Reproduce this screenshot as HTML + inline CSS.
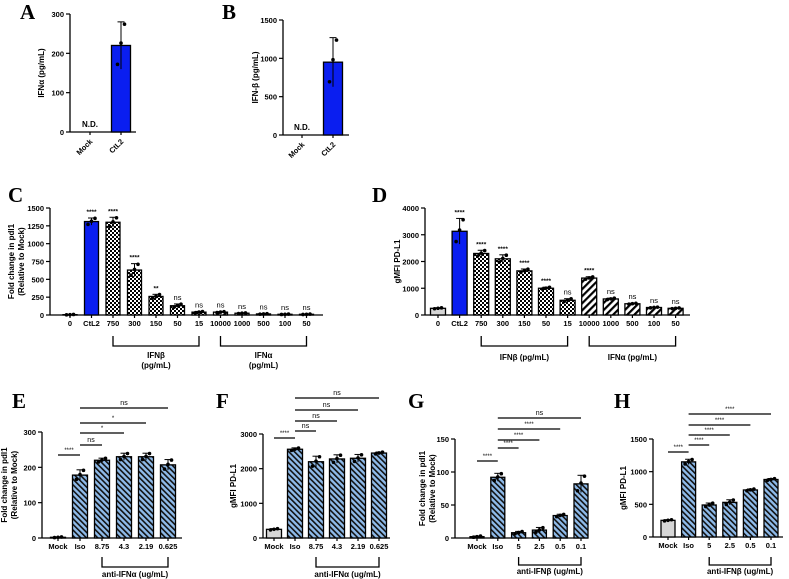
<!DOCTYPE html>
<html><head><meta charset="utf-8"><style>
html,body{margin:0;padding:0;background:#fff;}
svg{display:block;font-family:"Liberation Sans",Arial,sans-serif;}
</style></head><body>
<svg id="fig" width="789" height="579" viewBox="0 0 789 579" xmlns="http://www.w3.org/2000/svg">
<defs>
<pattern id="checker" width="4" height="4" patternUnits="userSpaceOnUse"><rect width="4" height="4" fill="#fff"/><rect width="2" height="2" fill="#000"/><rect x="2" y="2" width="2" height="2" fill="#000"/></pattern>
<pattern id="stripeBW" width="5" height="5" patternUnits="userSpaceOnUse" patternTransform="rotate(45)"><rect width="5" height="5" fill="#fff"/><rect width="2.2" height="5" fill="#000"/></pattern>
<pattern id="stripeBlue" width="4" height="4" patternUnits="userSpaceOnUse" patternTransform="rotate(-45)"><rect width="4" height="4" fill="#8fbbea"/><rect width="1.6" height="4" fill="#111"/></pattern>
</defs>
<g id="root"></g>
</svg>
<script>
// ---- data ----
const catsA = ["Mock","CtL2"]; const valsA = [0,220]; const errA = [0,60];
const catsB = ["Mock","CtL2"]; const valsB = [0,950]; const errB = [0,320];
const catsC = ["0","CtL2","750","300","150","50","15","10000","1000","500","100","50"];
const valsC = [5,1310,1300,630,260,130,40,40,25,15,10,10];
const errC = [3,50,70,90,30,25,10,8,5,4,3,3];
const sigC = ["","****","****","****","**","ns","ns","ns","ns","ns","ns","ns"];
const catsD = ["0","CtL2","750","300","150","50","15","10000","1000","500","100","50"];
const valsD = [250,3130,2300,2100,1650,1000,550,1380,600,420,280,250];
const errD = [20,480,120,150,70,40,60,50,30,20,15,15];
const sigD = ["","****","****","****","****","****","ns","****","ns","ns","ns","ns"];
const catsE = ["Mock","Iso","8.75","4.3","2.19","0.625"];
const valsE = [2,178,220,230,230,207]; const errE = [1,15,6,10,10,15];
const catsF = ["Mock","Iso","8.75","4.3","2.19","0.625"];
const valsF = [250,2560,2200,2280,2300,2450]; const errF = [20,40,160,120,110,30];
const catsG = ["Mock","Iso","5","2.5","0.5","0.1"];
const valsG = [2,92,8,12,34,82]; const errG = [1,6,2,4,2,13];
const catsH = ["Mock","Iso","5","2.5","0.5","0.1"];
const valsH = [255,1150,490,530,720,880]; const errH = [10,40,30,40,15,15];

const NS="http://www.w3.org/2000/svg";
const root=document.getElementById('root');
function el(tag,attrs,parent,text){const e=document.createElementNS(NS,tag);for(const k in attrs)e.setAttribute(k,attrs[k]);if(text!==undefined)e.textContent=text;(parent||root).appendChild(e);return e;}

function panel(p){
  const g=el('g',{});
  
  
  const ys=v=>p.y0-v/p.max*(p.y0-p.yTop);
  const cx=i=>p.start+i*p.step;
  // letter
  const L=el('text',{x:p.lx,y:p.ly,'font-family':'Liberation Serif,serif','font-weight':'bold','font-size':21},g,p.id);
  
  
  // y axis
  el('line',{x1:p.ax,y1:p.yTop,x2:p.ax,y2:p.y0,stroke:'#000','stroke-width':1.3},g);
  p.ticks.forEach(t=>{
    el('line',{x1:p.ax-4,y1:ys(t),x2:p.ax,y2:ys(t),stroke:'#000','stroke-width':1.2},g);
    const tl=el('text',{x:p.ax-6,y:ys(t)+3,'text-anchor':'end','font-size':7.5,'font-weight':'bold'},g,String(t));
    
    
  });
  // x axis
  el('line',{x1:p.ax,y1:p.y0,x2:p.end,y2:p.y0,stroke:'#000','stroke-width':1.3},g);
  // y title
  const yt=el('g',{transform:`translate(${p.ytx},${(p.yTop+p.y0)/2}) rotate(-90)`},g);
  
  
  p.ytitle.forEach((s,i)=>el('text',{x:0,y:i*10,'text-anchor':'middle','font-size':8,'font-weight':'bold'},yt,s));
  p.cats.forEach((c,i)=>{
    const x=cx(i),v=p.vals[i],e=p.err[i];
    el('line',{x1:x,y1:p.y0,x2:x,y2:p.y0+3,stroke:'#000','stroke-width':1.2},g);
    if(v>0 && p.fills[i]!=='none'){
      const b=el('rect',{x:x-p.bw/2,y:ys(v),width:p.bw,height:p.y0-ys(v),fill:p.fills[i],stroke:'#000','stroke-width':1.3},g);
      
      
      // error bar
      el('line',{x1:x,y1:ys(v+e),x2:x,y2:ys(Math.max(0,v-e)),stroke:'#000','stroke-width':1},g);
      el('line',{x1:x-3.5,y1:ys(v+e),x2:x+3.5,y2:ys(v+e),stroke:'#000','stroke-width':1},g);
      // points
      [-0.8,0.1,0.9].forEach((f,k)=>{
        const py=ys(Math.max(0,v+f*e));
        const px=x+(k-1)*3.5;
        const pt=el('circle',{cx:px,cy:py,r:1.8,fill:'#000'},g);
        
        
      });
    }
    if(p.rot){
      const t=el('text',{transform:`translate(${x+3},${p.y0+10}) rotate(-45)`,'text-anchor':'end','font-size':7.5,'font-weight':'bold'},g,c);
      
      
    } else {
      const t=el('text',{x:x,y:p.y0+11,'text-anchor':'middle','font-size':p.xfs||7.5,'font-weight':'bold'},g,c);
      
      
    }
    if(p.sig && p.sig[i]){
      const s=el('text',{x:x,y:ys(v+e)-4,'text-anchor':'middle','font-size':p.sig[i]==='ns'?7.5:6.5,'font-weight':p.sig[i]==='ns'?'normal':'bold'},g,p.sig[i]);
      
      
    }
  });
  (p.nd||[]).forEach(i=>{
    const t=el('text',{x:cx(i),y:p.y0-5,'text-anchor':'middle','font-size':8,'font-weight':'bold'},g,'N.D.');
    
    
  });
  (p.groups||[]).forEach(gr=>{
    const x1=cx(gr[0]),x2=cx(gr[1]);
    const bg=el('path',{d:`M${x1},${p.bTop} V${p.bBot} H${x2} V${p.bTop}`,fill:'none',stroke:'#000','stroke-width':1.3},g);
    
    
    gr[2].forEach((s,k)=>{
      const t=el('text',{x:(x1+x2)/2,y:p.gly+k*10,'text-anchor':'middle','font-size':8,'font-weight':'bold'},g,s);
      
      
    });
  });
  (p.comps||[]).forEach(cp=>{
    const x1=cx(cp[0]),x2=cx(cp[1]);
    const ln=el('line',{x1:x1,y1:cp[2],x2:x2,y2:cp[2],stroke:'#000','stroke-width':1.2},g);
    
    
    const t=el('text',{x:(x1+x2)/2,y:cp[2]-3,'text-anchor':'middle','font-size':cp[3]==='ns'?7:6},g,cp[3]);
    
    
  });
}
const B='#0a1ef0', CK='url(#checker)', SW='url(#stripeBW)', SB='url(#stripeBlue)', GR='#d6d6d6';
panel({id:'A',lx:20,ly:19,ax:70,y0:132,yTop:14,max:300,ticks:[0,100,200,300],start:90,step:31,bw:19,end:136,
  cats:catsA,vals:valsA,err:errA,fills:['none',B],rot:true,nd:[0],ytx:44,ytitle:['IFNα (pg/mL)']});
panel({id:'B',lx:222,ly:19,ax:283,y0:135,yTop:20,max:1500,ticks:[0,500,1000,1500],start:302,step:31,bw:19,end:349,
  cats:catsB,vals:valsB,err:errB,fills:['none',B],rot:true,nd:[0],ytx:258,ytitle:['IFN-β (pg/mL)']});
panel({id:'C',lx:8,ly:202,ax:50,y0:315,yTop:208,max:1500,ticks:[0,250,500,750,1000,1250,1500],start:70,step:21.5,bw:14,end:323,
  cats:catsC,vals:valsC,err:errC,sig:sigC,fills:[GR,B,CK,CK,CK,CK,CK,SW,SW,SW,SW,SW],xfs:7.5,ytx:14,
  ytitle:['Fold change in pdl1','(Relative to Mock)'],groups:[[2,6,['IFNβ','(pg/mL)']],[7,11,['IFNα','(pg/mL)']]],bTop:336,bBot:346,gly:358});
panel({id:'D',lx:372,ly:202,ax:425,y0:315,yTop:208,max:4000,ticks:[0,1000,2000,3000,4000],start:438,step:21.6,bw:15,end:690,
  cats:catsD,vals:valsD,err:errD,sig:sigD,fills:[GR,B,CK,CK,CK,CK,CK,SW,SW,SW,SW,SW],ytx:400,
  ytitle:['gMFI PD-L1'],groups:[[2,6,['IFNβ (pg/mL)']],[7,11,['IFNα (pg/mL)']]],bTop:336,bBot:346,gly:360});
const FE=[GR,SB,SB,SB,SB,SB];
panel({id:'E',lx:12,ly:408,ax:42,y0:538,yTop:432,max:300,ticks:[0,100,200,300],start:58,step:22,bw:15,end:182,
  cats:catsE,vals:valsE,err:errE,fills:FE,ytx:7,ytitle:['Fold change in pdl1','(Relative to Mock)'],
  groups:[[2,5,['anti-IFNα (ug/mL)']]],bTop:557,bBot:567,gly:577,
  comps:[[1,5,408,'ns'],[1,4,423,'*'],[1,3,433,'*'],[1,2,445,'ns'],[0,1,455,'****']]});
panel({id:'F',lx:216,ly:408,ax:263,y0:538,yTop:434,max:3000,ticks:[0,1000,2000,3000],start:274,step:21,bw:15,end:390,
  cats:catsF,vals:valsF,err:errF,fills:FE,ytx:236,ytitle:['gMFI PD-L1'],
  groups:[[2,5,['anti-IFNα (ug/mL)']]],bTop:557,bBot:567,gly:577,
  comps:[[1,5,398,'ns'],[1,4,410,'ns'],[1,3,421,'ns'],[1,2,431,'ns'],[0,1,438,'****']]});
panel({id:'G',lx:408,ly:408,ax:455,y0:538,yTop:439,max:150,ticks:[0,50,100,150],start:477,step:20.8,bw:14,end:588,
  cats:catsG,vals:valsG,err:errG,fills:FE,ytx:425,ytitle:['Fold change in pdl1','(Relative to Mock)'],
  groups:[[2,5,['anti-IFNβ (ug/mL)']]],bTop:557,bBot:565,gly:574,
  comps:[[1,5,418,'ns'],[1,4,429,'****'],[1,3,440,'****'],[1,2,448,'****'],[0,1,461,'****']]});
panel({id:'H',lx:614,ly:408,ax:653,y0:537,yTop:439,max:1500,ticks:[0,500,1000,1500],start:668,step:20.6,bw:14,end:783,
  cats:catsH,vals:valsH,err:errH,fills:FE,ytx:626,ytitle:['gMFI PD-L1'],
  groups:[[2,5,['anti-IFNβ (ug/mL)']]],bTop:557,bBot:565,gly:574,
  comps:[[1,5,414,'****'],[1,4,425,'****'],[1,3,435,'****'],[1,2,445,'****'],[0,1,452,'****']]});
</script>
</body></html>
